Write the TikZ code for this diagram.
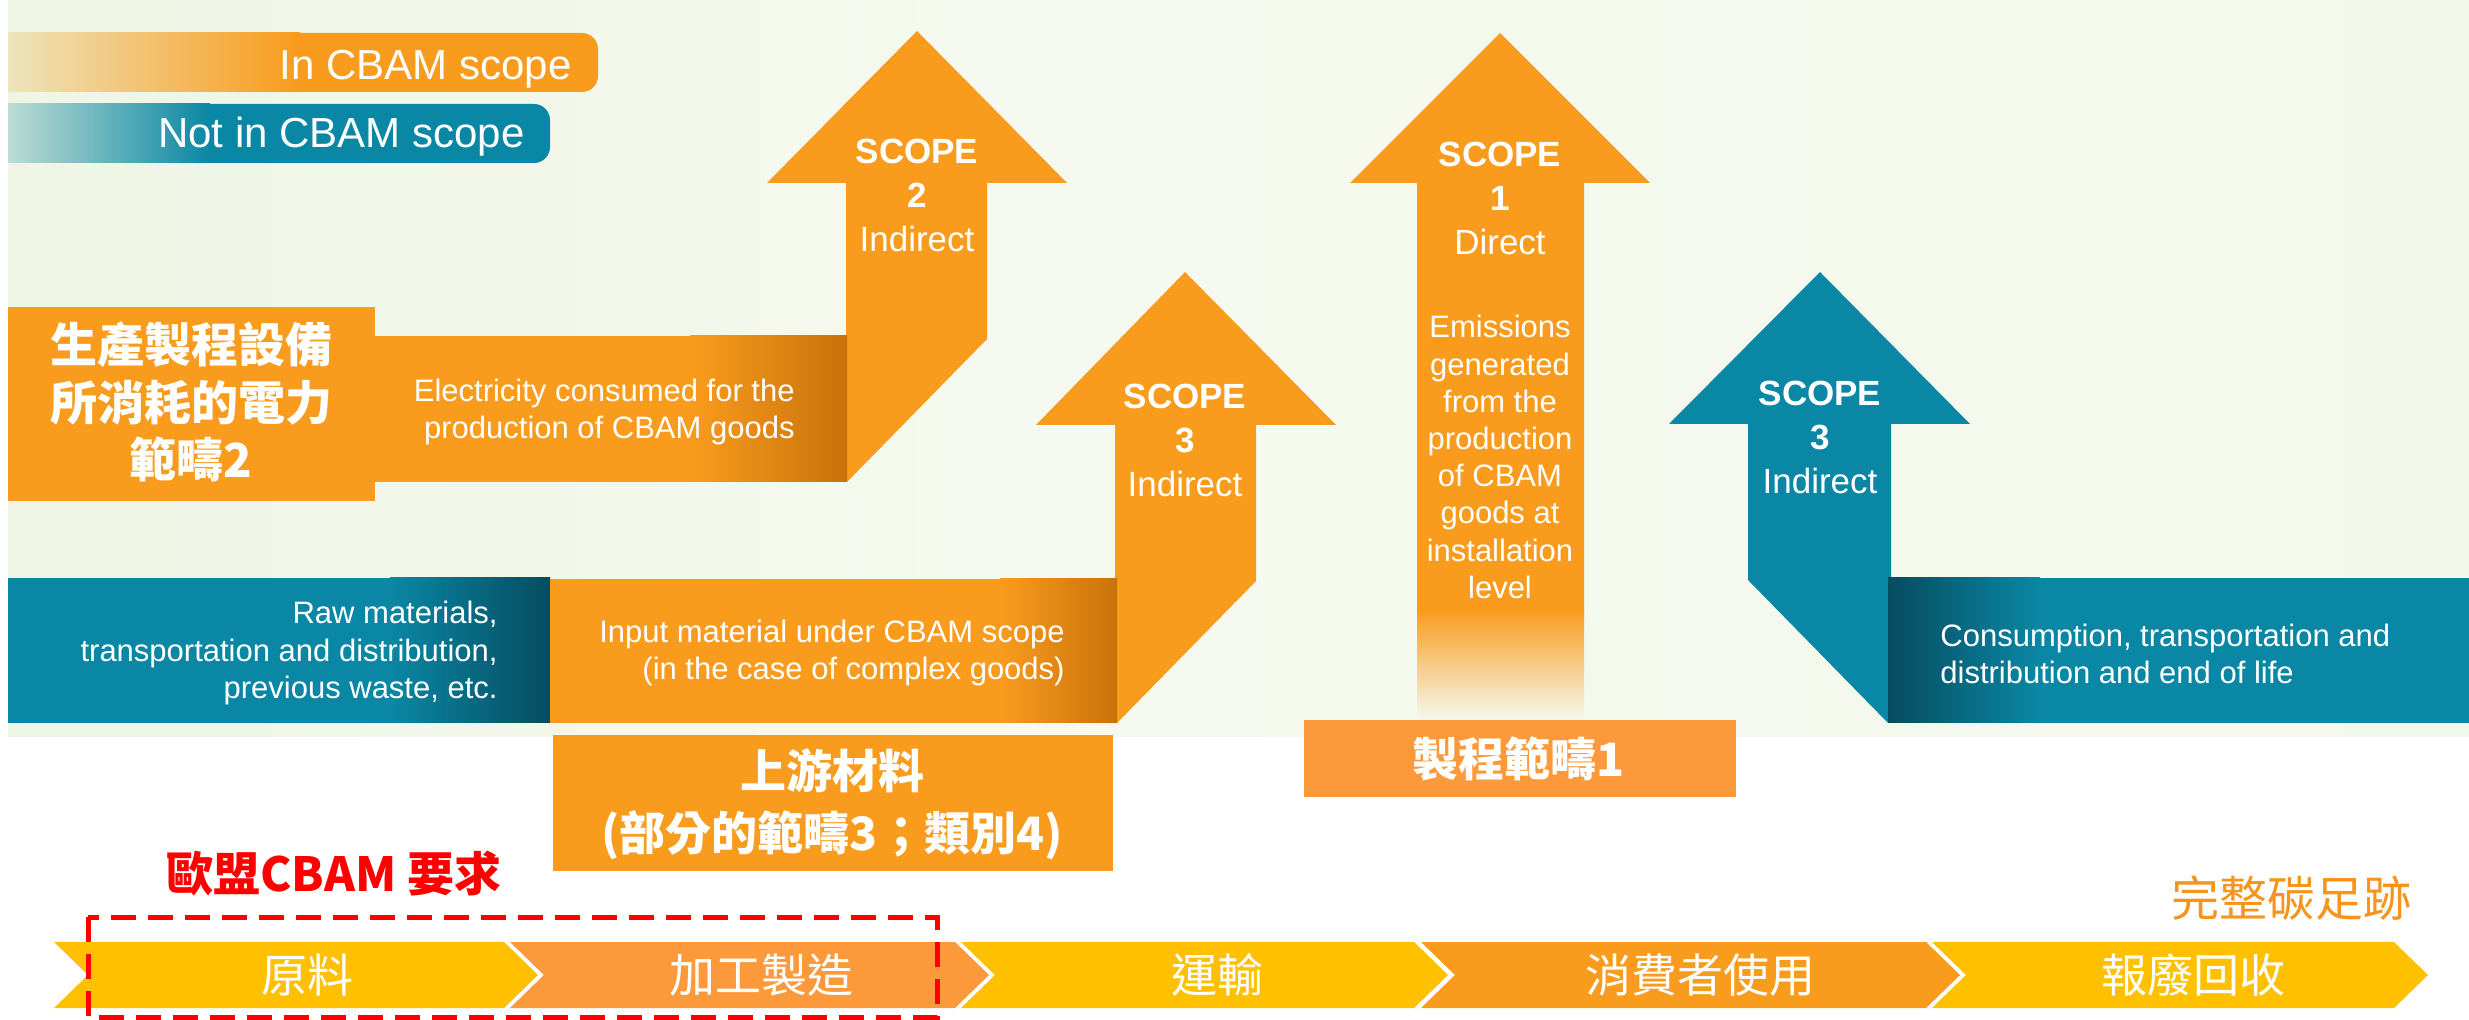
\documentclass[tikz,border=0pt]{standalone}
\usepackage{fontspec}
\setmainfont{Liberation Sans}
\newfontfamily\cjk{Noto Sans CJK TC}
\definecolor{org}{HTML}{F99B1C}
\definecolor{orgdark}{HTML}{C8720A}
\definecolor{orglite}{HTML}{FC993B}
\definecolor{cteal}{HTML}{0A87A4}
\definecolor{ctealdark}{HTML}{064C60}
\definecolor{cyel}{HTML}{FFC000}
\definecolor{cred}{HTML}{FF0000}
\definecolor{bgA}{HTML}{E7F1D8}
\definecolor{bgB}{HTML}{F5F9EF}
\definecolor{bgC}{HTML}{F2F7EA}
\definecolor{fadeO}{HTML}{EDE4BC}
\definecolor{fadeT}{HTML}{BCDCD4}
\definecolor{fullorg}{HTML}{F7941D}
\pgfdeclarehorizontalshading{bgshade}{100bp}{color(0bp)=(bgA); color(45bp)=(bgB); color(100bp)=(bgC)}
\begin{document}
\begin{tikzpicture}[x=0.5pt,y=-0.5pt,
  txt/.style={inner sep=0pt,text=white},
  en/.style={txt,font=\fontsize{15.5}{18.6}\selectfont},
  sclbl/.style={txt,align=center,font=\fontsize{17.5}{22}\selectfont},
  leg/.style={txt,font=\fontsize{21}{25}\selectfont},
  zhb/.style={txt,align=center,font=\cjk\bfseries\fontsize{23.5}{28.75}\selectfont},
  chevtxt/.style={txt,font=\cjk\fontsize{23}{28}\selectfont},
]
\useasboundingbox (0,0) rectangle (2469,1020);
\fill[white] (0,0) rectangle (2469,1020);
% background panel
\shade[shading=bgshade] (8,0) rectangle (2469,737);

% legend
\fill[org, rounded corners=8] (8,33) rectangle (598,92);
\shade[left color=fadeO, right color=org] (8,33) rectangle (300,92);
\node[leg, anchor=base east] (legin) at (572,80) {In CBAM scope};
\fill[cteal, rounded corners=8] (8,104) rectangle (550,163);
\shade[left color=fadeT, right color=cteal] (8,104) rectangle (210,163);
\node[leg, anchor=base east] (legnot) at (525,148) {Not in CBAM scope};

% scope 2 arrow and bar
\fill[org] (846,183) -- (767,183) -- (917,31) -- (1067,183) -- (987,183) -- (987,339) -- (847,482) -- (846,482) -- cycle;
\fill[org] (375,336) rectangle (847,482);
\shade[left color=org, right color=orgdark] (690,336) rectangle (847,482);
\fill[org] (8,307) rectangle (375,501);
\node[zhb] (big2) at (191,402) {生產製程設備\\所消耗的電力\\範疇2};
\node[en, align=right, anchor=east] (elec) at (795,412) {Electricity consumed for the\\production of CBAM goods};
\node[sclbl] (s2) at (917,195) {\textbf{SCOPE}\\\textbf{2}\\Indirect};

% left teal bar
\fill[cteal] (8,578) rectangle (550,723);
\shade[left color=cteal, right color=ctealdark] (390,578) rectangle (550,723);
\node[en, align=right, anchor=east] (raw) at (498,653) {Raw materials,\\transportation and distribution,\\previous waste, etc.};

% scope 3 (middle) arrow and bar
\fill[org] (1115,425) -- (1036,425) -- (1185,272) -- (1336,425) -- (1256,425) -- (1256,581) -- (1117,723) -- (1115,723) -- cycle;
\fill[org] (550,579) rectangle (1117,723);
\shade[left color=org, right color=orgdark] (1000,579) rectangle (1117,723);
\node[en, align=right, anchor=east] (input) at (1065,653) {Input material under CBAM scope\\(in the case of complex goods)};
\node[sclbl] (s3a) at (1185,440) {\textbf{SCOPE}\\\textbf{3}\\Indirect};

% scope 1 arrow
\fill[org] (1417,183) -- (1350,183) -- (1500,33) -- (1650,183) -- (1584,183) -- (1584,610) -- (1417,610) -- cycle;
\shade[top color=org, bottom color=bgB] (1417,609) rectangle (1584,720);
\node[sclbl] (s1) at (1500,198) {\textbf{SCOPE}\\\textbf{1}\\Direct};
\node[en, align=center] (emis) at (1500,457) {Emissions\\generated\\from the\\production\\of CBAM\\goods at\\installation\\level};

% teal scope 3 arrow and bar
\fill[cteal] (1891,424) -- (1970,424) -- (1820,272) -- (1669,424) -- (1748,424) -- (1748,580) -- (1888,723) -- (1891,723) -- cycle;
\fill[cteal] (1888,578) rectangle (2469,723);
\shade[left color=ctealdark, right color=cteal] (1888,578) rectangle (2040,723);
\node[sclbl] (s3b) at (1820,437) {\textbf{SCOPE}\\\textbf{3}\\Indirect};
\node[en, align=left, anchor=west] (cons) at (1940,654) {Consumption, transportation and\\distribution and end of life};

% lower boxes
\fill[org] (553,735) rectangle (1113,871);
\node[zhb, font=\cjk\bfseries\fontsize{23}{31}\selectfont] (up) at (832,804) {上游材料\\(部分的範疇3；類別4)};
\fill[orglite] (1304,720) rectangle (1736,797);
\node[zhb, font=\cjk\bfseries\fontsize{23}{28}\selectfont] (p1) at (1518,759) {製程範疇1};

% labels
\node[inner sep=0pt, text=cred, font=\cjk\bfseries\fontsize{23.5}{28}\selectfont] (eu) at (334,874) {歐盟CBAM 要求};
\node[inner sep=0pt, text=fullorg, font=\cjk\fontsize{24}{28}\selectfont] (full) at (2291,898) {完整碳足跡};

% chevrons
\fill[cyel] (54,942) -- (504,942) -- (538,975) -- (504,1008) -- (54,1008) -- (88,975) -- cycle;
\fill[orglite] (510,942) -- (955,942) -- (989,975) -- (955,1008) -- (510,1008) -- (544,975) -- cycle;
\fill[cyel] (961,942) -- (1414,942) -- (1448,975) -- (1414,1008) -- (961,1008) -- (995,975) -- cycle;
\fill[org] (1421,942) -- (1926,942) -- (1960,975) -- (1926,1008) -- (1421,1008) -- (1455,975) -- cycle;
\fill[cyel] (1932,942) -- (2394,942) -- (2428,975) -- (2394,1008) -- (1932,1008) -- (1966,975) -- cycle;
\node[chevtxt] (c1) at (307,975) {原料};
\node[chevtxt] (c2) at (761,975) {加工製造};
\node[chevtxt] (c3) at (1217,975) {運輸};
\node[chevtxt] (c4) at (1700,975) {消費者使用};
\node[chevtxt] (c5) at (2193,975) {報廢回收};

% dashed CBAM box
\draw[cred, line width=2.5pt, dash pattern=on 12.5pt off 6pt] (88,917) rectangle (937,1017);
\end{tikzpicture}
\end{document}
